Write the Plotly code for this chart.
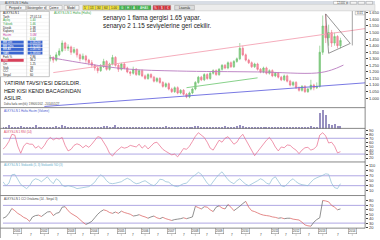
import plotly.graph_objects as go

W, H = 380, 240
def px(x): return x / W
def py(y): return 1 - y / H

# ---------------- data ----------------
bars = list(range(115))
opens = [1.28,1.27,1.29,1.26,1.30,1.28,1.31,1.29,1.27,1.30,
         1.32,1.29,1.28,1.31,1.30,1.28,1.30,1.31,1.29,1.33,
         1.36,1.42,1.38,1.39,1.35,1.37,1.33,1.30,1.32,1.29,
         1.27,1.25,1.23,1.21,1.24,1.28,1.22,1.26,1.31,1.25,
         1.22,1.26,1.23,1.20,1.19,1.22,1.18,1.21,1.17,1.15,
         1.18,1.16,1.13,1.15,1.12,1.09,1.11,1.07,1.05,1.08,
         1.04,1.06,1.03,1.01,1.04,1.07,1.12,1.16,1.14,1.18,
         1.15,1.19,1.21,1.18,1.22,1.25,1.23,1.27,1.24,1.28,
         1.30,1.38,1.33,1.29,1.27,1.24,1.26,1.22,1.20,1.23,
         1.19,1.21,1.17,1.19,1.16,1.14,1.17,1.13,1.10,1.12,
         1.08,1.06,1.09,1.05,1.07,1.10,1.08,1.09,1.35,1.55,
         1.46,1.50,1.42,1.47,1.40]
highs = [1.30,1.31,1.30,1.32,1.31,1.33,1.32,1.30,1.32,1.34,
         1.33,1.31,1.33,1.32,1.31,1.32,1.33,1.32,1.35,1.38,
         1.44,1.43,1.41,1.40,1.39,1.38,1.34,1.34,1.33,1.30,
         1.29,1.26,1.24,1.26,1.30,1.29,1.27,1.33,1.32,1.26,
         1.27,1.27,1.24,1.21,1.24,1.23,1.22,1.22,1.18,1.19,
         1.19,1.17,1.16,1.16,1.13,1.12,1.12,1.08,1.09,1.09,
         1.07,1.07,1.04,1.05,1.08,1.13,1.17,1.17,1.19,1.19,
         1.20,1.22,1.22,1.23,1.26,1.26,1.28,1.28,1.29,1.31,
         1.42,1.40,1.34,1.30,1.28,1.27,1.27,1.23,1.24,1.24,
         1.22,1.22,1.20,1.20,1.17,1.18,1.18,1.14,1.13,1.13,
         1.09,1.10,1.10,1.08,1.14,1.11,1.12,1.40,1.63,1.64,
         1.56,1.52,1.50,1.48,1.46]
lows = [1.25,1.26,1.24,1.25,1.26,1.27,1.27,1.25,1.26,1.29,
        1.28,1.26,1.27,1.28,1.26,1.27,1.28,1.27,1.28,1.32,
        1.35,1.36,1.36,1.33,1.34,1.31,1.28,1.29,1.27,1.25,
        1.23,1.21,1.19,1.20,1.23,1.21,1.21,1.25,1.24,1.20,
        1.21,1.22,1.19,1.17,1.18,1.17,1.17,1.16,1.14,1.14,
        1.15,1.12,1.12,1.11,1.08,1.08,1.06,1.04,1.04,1.03,
        1.03,1.02,1.00,1.00,1.03,1.06,1.11,1.13,1.13,1.14,
        1.14,1.18,1.17,1.17,1.21,1.22,1.22,1.23,1.23,1.27,
        1.29,1.32,1.28,1.26,1.23,1.23,1.21,1.19,1.19,1.18,
        1.18,1.16,1.16,1.15,1.13,1.13,1.12,1.09,1.09,1.07,
        1.05,1.05,1.04,1.04,1.06,1.06,1.07,1.08,1.33,1.42,
        1.40,1.39,1.40,1.38,1.38]
closes = [1.27,1.29,1.26,1.30,1.28,1.31,1.29,1.27,1.30,1.32,
          1.29,1.28,1.31,1.30,1.28,1.30,1.31,1.29,1.33,1.36,
          1.42,1.38,1.39,1.35,1.37,1.33,1.30,1.32,1.29,1.27,
          1.25,1.23,1.21,1.24,1.28,1.22,1.26,1.31,1.25,1.22,
          1.26,1.23,1.20,1.19,1.22,1.18,1.21,1.17,1.15,1.18,
          1.16,1.13,1.15,1.12,1.09,1.11,1.07,1.05,1.08,1.04,
          1.06,1.03,1.01,1.04,1.07,1.12,1.16,1.14,1.18,1.15,
          1.19,1.21,1.18,1.22,1.25,1.23,1.27,1.24,1.28,1.30,
          1.38,1.33,1.29,1.27,1.24,1.26,1.22,1.20,1.23,1.19,
          1.21,1.17,1.19,1.16,1.14,1.17,1.13,1.10,1.12,1.08,
          1.06,1.09,1.05,1.07,1.10,1.08,1.09,1.35,1.55,1.46,
          1.50,1.42,1.47,1.40,1.44]
volume = [1,1.5,3,1,1.5,1,2,1,1.5,1, 1.5,3,1,1,1.5,1,1.5,1,2,1.5,
          3,2,1,1.5,1,1.5,1,1,1.5,1, 1,1.5,1,1.5,2,2.5,1,1.5,3,1.5,
          1,1,1.5,1,1.5,1,1,1.5,1,1, 1.5,1,1,1.5,1,2,1,1.5,1,1,
          1.5,1,1.5,1,1.5,2,2.5,1.5,1,1.5, 1,1.5,1,1.5,1,2,1.5,1,1.5,2,
          3,2,1.5,1,1.5,1,1,1.5,1,1.5, 1,1.5,1,1,1.5,1,1.5,1,1,1.5,
          1,1.5,1,1,2,1,1.5,13,15,11, 4,3,3.5,2,2]
rsi = [42,50,62,80,78,50,32,50,58,55, 55,45,50,43,52,65,72,66,70,68,
       72,52,38,42,52,56,53,46,52,47, 55,65,74,72,60,48,32,25,35,42,
       48,45,47,52,50,48,55,45,52,43, 50,58,60,50,42,37,32,28,30,23,
       33,44,42,50,62,75,84,78,72,60, 45,40,52,65,60,70,74,65,55,60,
       72,80,66,56,40,26,36,46,55,65, 72,62,48,38,48,46,53,52,45,40,
       31,40,46,47,40,43,50,78,84,76, 58,60,50,33,36]
stoch = [46,30,40,74,76,58,35,26,18,30, 50,58,54,46,56,66,50,38,58,50,
         32,26,30,28,24,18,20,22,26,26, 34,44,62,74,66,50,40,38,40,44,
         46,54,60,54,44,38,40,46,50,42, 34,30,40,56,54,46,44,34,28,26,
         32,38,40,54,66,74,84,76,58,40, 30,48,62,76,86,70,54,44,38,50,
         58,46,36,30,36,42,50,58,52,40, 36,58,66,48,30,26,36,50,58,46,
         38,34,32,30,44,56,62,66,72,78, 76,40,22,18,38]
cci = [41,44,52,63,58,52,48,43,40,34, 44,47,48,45,50,55,56,47,52,54,
       66,67,58,52,48,44,38,32,27,30, 34,42,50,56,60,58,54,52,55,52,
       57,54,52,50,46,47,49,46,44,41, 44,46,42,40,43,40,38,36,38,39,
       40,42,40,42,44,68,65,62,67,66, 60,56,66,69,64,62,72,66,58,63,
       68,74,79,66,58,56,53,50,48,47, 46,44,43,41,42,40,41,41,39,38,
       37,32,26,24,23,32,38,42,81,80, 78,70,66,60,62]

price_ticks = [1.00,1.05,1.10,1.15,1.20,1.25,1.30,1.35,1.40,1.45,1.50,1.55,1.60,1.65]
rsi_levels = [70, 30]
stoch_levels = [70, 30]
cci_levels = [70, 30]

# user-drawn lines (bar index, price)
pink_trend_x, pink_trend_y = [17, 122.3], [1.195, 1.53]
blue_trend_x, blue_trend_y = [14, 122.3], [0.937, 1.117]
ma_long_x = [16, 29, 42, 59, 86, 106, 111, 115]
ma_long_y = [1.31, 1.26, 1.222, 1.207, 1.20, 1.192, 1.215, 1.252]
ma_short_x = [62, 76, 86]
ma_short_y = [1.08, 1.125, 1.155]
tri_x = [109, 117.3, 110, 109]
tri_y = [1.642, 1.417, 1.342, 1.642]

year_pos = [5, 14, 23, 31, 40, 48, 57, 65, 73, 82, 92, 99, 108, 118]
year_lbl = ['2001','2002','2003','2004','2005','2006','2007','2008','2009','2010','2011','2012','2013','2014']

table_rows = [("ALKYS.LN 1", ""), ("Tarih", "27.01.14"), ("Açılış", "1.40"), ("Yüksek", "1.46"),
              ("Düşük", "1.38"), ("Kapanış", "1.44"), ("Hacim", "3.0M"), ("Fark", "0.04"),
              ("BB Üst", "1.56250"), ("BB Orta", "1.32500"), ("BB Alt", "1.08750"), ("SAR", "1.38000"),
              ("Fark %", "2.86"), ("RSI", "36.2"), ("Ort", "1.25"), ("Stok", "38"),
              ("CCI", "62"), ("Sinyal", "60")]

# ---------------- figure ----------------
fig = go.Figure()
fig.add_trace(go.Candlestick(
    x=bars, open=opens, high=highs, low=lows, close=closes,
    increasing=dict(line=dict(color='#6cbf6c', width=0.6), fillcolor='#8fd08f'),
    decreasing=dict(line=dict(color='#ee7088', width=0.6), fillcolor='#f49aaa'),
    whiskerwidth=0, xaxis='x', yaxis='y', showlegend=False))
fig.add_trace(go.Scatter(x=pink_trend_x, y=pink_trend_y, mode='lines',
                         line=dict(color='#f4a4b4', width=0.9), yaxis='y'))
fig.add_trace(go.Scatter(x=blue_trend_x, y=blue_trend_y, mode='lines',
                         line=dict(color='#6a6ae0', width=0.9), yaxis='y'))
fig.add_trace(go.Scatter(x=ma_long_x, y=ma_long_y, mode='lines', line_shape='spline',
                         line=dict(color='#b87ac0', width=0.9), yaxis='y'))
fig.add_trace(go.Scatter(x=ma_short_x, y=ma_short_y, mode='lines',
                         line=dict(color='#7acc7e', width=0.9), yaxis='y'))
fig.add_trace(go.Scatter(x=tri_x, y=tri_y, mode='lines',
                         line=dict(color='#505050', width=0.6), yaxis='y'))

fig.add_trace(go.Bar(x=bars, y=volume, width=0.35, marker=dict(color='#9890c0', line=dict(width=0)),
                     yaxis='y2'))
fig.add_trace(go.Scatter(x=bars, y=rsi, mode='lines', line=dict(color='#e8688a', width=0.7), yaxis='y3'))
fig.add_trace(go.Scatter(x=bars, y=stoch, mode='lines', line=dict(color='#8cbcd4', width=0.7), yaxis='y4'))

up_x, up_y, dn_x, dn_y = [], [], [], []
for k in range(1, len(cci)):
    tx, ty = (up_x, up_y) if cci[k] >= cci[k - 1] else (dn_x, dn_y)
    tx.extend([bars[k - 1], bars[k], None]); ty.extend([cci[k - 1], cci[k], None])
fig.add_trace(go.Scatter(x=up_x, y=up_y, mode='lines', line=dict(color='#606060', width=0.7), yaxis='y5'))
fig.add_trace(go.Scatter(x=dn_x, y=dn_y, mode='lines', line=dict(color='#d85858', width=0.7), yaxis='y5'))

def yax(top, bot, rng, **kw):
    d = dict(domain=[py(bot), py(top)], range=rng, side='right', anchor='x', showgrid=False,
             zeroline=False, ticks='outside', ticklen=2, tickwidth=0.5, tickcolor='#444',
             tickfont=dict(size=4, color='#333'), fixedrange=True)
    d.update(kw)
    return d

fig.update_layout(
    width=W, height=H, margin=dict(l=0, r=0, t=0, b=0),
    paper_bgcolor='white', plot_bgcolor='white', showlegend=False, bargap=0,
    font=dict(family='Liberation Sans, Arial, sans-serif', size=4, color='#333'),
    xaxis=dict(domain=[px(3), px(370)], range=[0, 122.33], showticklabels=False, showgrid=False,
               zeroline=False, rangeslider=dict(visible=False), fixedrange=True, ticks=''),
    yaxis=yax(10, 108, [0.928, 1.665], tickvals=price_ticks, tickformat='.3f'),
    yaxis2=yax(108, 129, [0, 17], showticklabels=False, ticks=''),
    yaxis3=yax(129, 163, [10, 95], tickvals=[20, 30, 40, 50, 60, 70, 80, 90]),
    yaxis4=yax(163, 197, [-10, 126], tickvals=[10, 30, 50, 70, 90, 110]),
    yaxis5=yax(197, 230, [18.7, 92.2], tickvals=[20, 30, 40, 50, 60, 70, 80]),
)

shapes = []
ann = []
def rect(x0, y0, x1, y1, fill, line='#999', lw=0.5, layer='above'):
    shapes.append(dict(type='rect', xref='paper', yref='paper', x0=px(x0), x1=px(x1), y0=py(y1), y1=py(y0),
                       fillcolor=fill, line=dict(color=line, width=lw), layer=layer))
def hline(y, x0, x1, color, lw=0.6):
    shapes.append(dict(type='line', xref='paper', yref='paper', x0=px(x0), x1=px(x1), y0=py(y), y1=py(y),
                       line=dict(color=color, width=lw)))
def text(x, y, s, size=4, color='#333', anchor='left', family=None, **kw):
    f = dict(size=size, color=color)
    if family: f['family'] = family
    ann.append(dict(xref='paper', yref='paper', x=px(x), y=py(y), text=s, showarrow=False,
                    xanchor=anchor, yanchor='middle', font=f, **kw))

# panel levels
for ref, levels in (('y3', rsi_levels), ('y4', stoch_levels), ('y5', cci_levels)):
    for lv in levels:
        shapes.append(dict(type='line', xref='paper', yref=ref, x0=px(3), x1=px(370), y0=lv, y1=lv,
                           line=dict(color='#9a90dc', width=0.8), layer='below'))

# panel separators and frame
for yy in [108, 129, 163, 197, 230]:
    hline(yy, 0, 370, '#555', 0.7)
shapes.append(dict(type='line', xref='paper', yref='paper', x0=px(370), x1=px(370), y0=py(230), y1=py(10),
                   line=dict(color='#555', width=0.7)))
shapes.append(dict(type='line', xref='paper', yref='paper', x0=px(0.5), x1=px(0.5), y0=py(240), y1=py(10),
                   line=dict(color='#888', width=0.7)))
# crosshair marker
shapes.append(dict(type='line', xref='x', yref='paper', x0=118, x1=118, y0=py(45), y1=py(10),
                   line=dict(color='#666', width=0.6)))
rect(360, 10.5, 369.5, 14, 'white', '#777', 0.4)
text(364.7, 12.3, '0.01', 3, '#333', 'center')

# toolbar
rect(0, 0, 380, 3.5, '#d8dde5', '#d8dde5', 0)
rect(0, 3.5, 380, 10, '#ececec', '#bbb', 0.4)
text(3, 1.8, 'ALKYS.LN 1 Hafta', 2.8, '#444')
rect(338, 0.4, 352, 3.2, 'white', '#888', 0.4)
text(339, 1.8, '12.000 ▾', 2.6, '#333')
for x0 in [355, 363, 371]:
    rect(x0, 0.4, x0 + 6.5, 3.2, '#f4f4f4', '#888', 0.4)
buttons = [('Periyod ▾', 6, 26, '#f6f6f6'), ('Göstergeler ▾', 27, 46, '#f6f6f6'),
           ('Çizim ▾', 47, 63, '#f6f6f6'), ('Model', 65, 80, '#f6f6f6'),
           ("5'", 84, 90, '#f3e23a'), ("15'", 90, 97, '#f3e23a'), ("30'", 97, 104, '#f3e23a'),
           ("60'", 104, 111, '#f3e23a'), ('1.00', 111, 121, '#f3e23a'),
           ('G', 121, 127, '#3cb54a'), ('H', 127, 133, '#3cb54a'), ('A', 133, 139, '#3cb54a'),
           ('AHAS', 139, 153, '#3cb54a'), ('%', 155, 161, '#d8323c'), ('$', 161, 167, '#d8323c'),
           ('€', 167, 173, '#d8323c'), ('Lisansla', 177, 197, '#dcdcdc')]
for lbl, x0, x1, fc in buttons:
    rect(x0, 4.5, x1, 9, fc, '#888', 0.4)
    text((x0 + x1) / 2, 6.8, lbl, 3, '#222' if fc not in ('#3cb54a', '#d8323c') else 'white', 'center')

# left data table
row_h = (76.6 - 10.5) / len(table_rows)
rect(0, 10.5, 50, 76.6, 'white', '#888', 0.5)
for r, (a, b) in enumerate(table_rows):
    y0 = 10.5 + r * row_h
    yc = y0 + row_h / 2
    ca, cb = '#222', '#222'
    if 8 <= r <= 11:
        rect(1, y0 + 0.3, 24, y0 + row_h - 0.3, '#3a66d0', '#3a66d0', 0)
        rect(28, y0 + 0.3, 43, y0 + row_h - 0.3, '#3a66d0', '#3a66d0', 0)
        ca, cb = 'white', 'white'
    elif r == 13:
        rect(1, y0 + 0.3, 24, y0 + row_h - 0.3, '#d8405a', '#d8405a', 0)
        ca = 'white'
    elif r in (2, 3, 7):
        ca, cb = '#2a9a3a', '#2a9a3a'
    elif r == 6:
        ca, cb = '#c03aa0', '#c03aa0'
    hline(y0 + row_h, 0, 50, '#dddddd', 0.3)
    text(1.5, yc, a, 2.9, ca)
    text(28.5, yc, b, 2.9, cb)
shapes.append(dict(type='line', xref='paper', yref='paper', x0=px(27), x1=px(27), y0=py(76.6), y1=py(10.5),
                   line=dict(color='#bbb', width=0.4)))

# texts in price panel
text(53, 12.5, 'ALKYS.LN 1 Hafta (Hafta)', 3.2, '#3aa64a')
text(102, 17.5, 'senaryo 1 flama gergisi 1.65 yapar.', 6.3, '#222')
text(102, 25.5, 'senaryo 2 1.15 seviyelerine geri cekilir.', 6.3, '#222')
text(2, 83.5, 'YATIRIM TAVSIYESI DEGILDIR.', 5.3, '#111')
text(2, 91, 'HER KISI KENDI BACAGINDAN', 5.3, '#111')
text(2, 98.5, 'ASILIR.', 5.3, '#111')
text(2, 104.5, 'Daha fazla veri(tik): 1990/01/02 - 2014/01/27', 2.8, '#444')

# panel titles
text(2, 111.5, 'ALKYS.LN 1 Hafta Hacim (Volume)', 2.9, '#4a5ad0')
text(2, 132.5, 'ALKYS.LN 1 RSI (14)', 2.9, '#d8405a')
text(2, 166.5, 'ALKYS.LN 1 Stokastik (5, 3) Stokastik %D (3)', 2.9, '#5aa8c8')
text(2, 200.5, 'ALKYS.LN 1 CCI Ortalama (14 - Sinyal 3)', 2.9, '#444')

# date axis
for k, (p, lbl) in enumerate(zip(year_pos, year_lbl)):
    ann.append(dict(xref='x', yref='paper', x=p, y=py(232.6), text=lbl, showarrow=False,
                    xanchor='center', yanchor='middle', font=dict(size=3, color='#333'),
                    bordercolor='#777', borderwidth=0.5, borderpad=0.3, bgcolor='white'))
    shapes.append(dict(type='line', xref='x', yref='paper', x0=p, x1=p, y0=py(230), y1=py(238),
                       line=dict(color='#999', width=0.4)))
    if k + 1 < len(year_pos):
        mid = (p + year_pos[k + 1]) / 2
        ann.append(dict(xref='x', yref='paper', x=mid, y=py(236.5), text='7', showarrow=False,
                        xanchor='center', yanchor='middle', font=dict(size=3, color='#333')))

fig.update_layout(shapes=shapes, annotations=ann)
fig.write_html('out.html')
